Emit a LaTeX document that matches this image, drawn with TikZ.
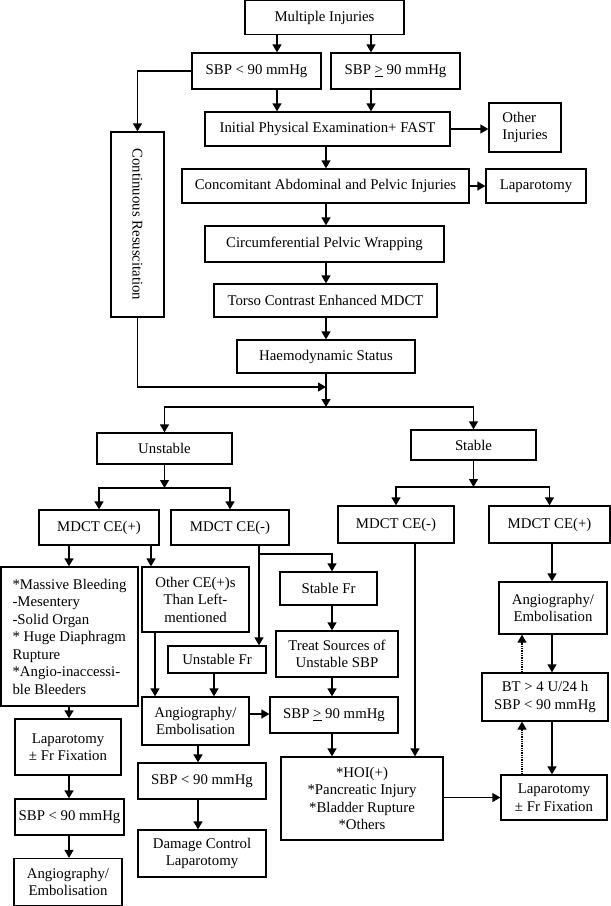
\documentclass[tikz,border=0pt]{standalone}
\usepackage{fontspec}
\setmainfont{Liberation Serif}
\usetikzlibrary{arrows.meta}
\begin{document}
\begin{tikzpicture}[x=1pt,y=-1pt,line width=1.3pt]
\tikzstyle{box}=[draw,line width=1.3pt,inner sep=2pt,align=center,font=\fontsize{14.8}{17.5}\selectfont]
\tikzstyle{arr}=[-{Triangle[length=8pt,width=9pt]}]
\useasboundingbox (0,0) rectangle (611,906);
\node[box,minimum width=159,minimum height=34] (mi) at (324.5,17.6) {Multiple Injuries};
\node[box,minimum width=129,minimum height=36] (sbpL) at (256.5,71) {SBP < 90 mmHg};
\node[box,minimum width=129,minimum height=36] (sbpR) at (395.5,71) {SBP \underline{>} 90 mmHg};
\node[box,minimum width=245,minimum height=34] (ipe) at (327.5,129) {Initial Physical Examination+ FAST};
\node[box,minimum width=72,minimum height=49,align=left] (oth) at (525,127.5) {Other\\Injuries};
\node[box,rotate=-90,minimum width=185,minimum height=53] (cr) at (137.5,224.5) {Continuous Resuscitation};
\node[box,minimum width=287,minimum height=34] (cap) at (325.5,186) {Concomitant Abdominal and Pelvic Injuries};
\node[box,minimum width=100,minimum height=34] (lapT) at (536,186) {Laparotomy};
\node[box,minimum width=239,minimum height=36] (cpw) at (324.5,244) {Circumferential Pelvic Wrapping};
\node[box,minimum width=223,minimum height=33] (tce) at (325.5,300.5) {Torso Contrast Enhanced MDCT};
\node[box,minimum width=178,minimum height=33] (hs) at (326,356.5) {Haemodynamic Status};
\node[box,minimum width=135,minimum height=31] (unst) at (164.5,448.5) {Unstable};
\node[box,minimum width=125,minimum height=30] (stab) at (473.5,445) {Stable};
\node[box,minimum width=120,minimum height=35] (ceP1) at (99,527.5) {MDCT CE(+)};
\node[box,minimum width=118,minimum height=35] (ceN1) at (230,527.5) {MDCT CE(-)};
\node[box,minimum width=116,minimum height=37] (ceN2) at (396,524.5) {MDCT CE(-)};
\node[box,minimum width=121,minimum height=37] (ceP2) at (549.5,524.5) {MDCT CE(+)};
\node[box,minimum width=137,minimum height=139,align=left] (mb) at (69.5,636.5) {*Massive Bleeding\\-Mesentery\\-Solid Organ\\* Huge Diaphragm\\Rupture\\*Angio-inaccessi-\\ble Bleeders};
\node[box,minimum width=107,minimum height=65] (oce) at (195.5,599.5) {Other CE(+)s\\Than Left-\\mentioned};
\node[box,minimum width=97,minimum height=33] (sfr) at (328.5,588.5) {Stable Fr};
\node[box,minimum width=122,minimum height=46] (tsu) at (337,654) {Treat Sources of\\Unstable SBP};
\node[box,minimum width=98,minimum height=27] (ufr) at (217,659.5) {Unstable Fr};
\node[box,minimum width=107,minimum height=48] (aeL) at (195.5,721) {Angiography/\\Embolisation};
\node[box,minimum width=128,minimum height=36] (sbpM) at (334,715) {SBP \underline{>} 90 mmHg};
\node[box,minimum width=162,minimum height=83] (hoi) at (362,798.5) {*HOI(+)\\*Pancreatic Injury\\*Bladder Rupture\\*Others};
\node[box,minimum width=106,minimum height=45] (lapR) at (554,797.5) {Laparotomy\\± Fr Fixation};
\node[box,minimum width=126,minimum height=48] (bt) at (545,697) {BT > 4 U/24 h\\SBP < 90 mmHg};
\node[box,minimum width=108,minimum height=52] (aeR) at (553,608) {Angiography/\\Embolisation};
\node[box,minimum width=106,minimum height=56] (lapL) at (68,747) {Laparotomy\\± Fr Fixation};
\node[box,minimum width=109,minimum height=36] (sbpLL) at (69.5,817) {SBP < 90 mmHg};
\node[box,minimum width=108,minimum height=47] (aeLL) at (68,882) {Angiography/\\Embolisation};
\node[box,minimum width=128,minimum height=36] (sbpMM) at (202,781) {SBP < 90 mmHg};
\node[box,minimum width=128,minimum height=47] (dcl) at (202,853.5) {Damage Control\\Laparotomy};
\draw[arr] (mi.south -| 277,0) -- (sbpL.north -| 277,0);
\draw[arr] (mi.south -| 371,0) -- (sbpR.north -| 371,0);
\draw[arr] (sbpL.south -| 277,0) -- (ipe.north -| 277,0);
\draw[arr] (sbpR.south -| 371,0) -- (ipe.north -| 371,0);
\draw[arr] (sbpL.west) -| (cr.west);
\draw[arr] (ipe.east) -- (ipe.east -| oth.west);
\draw[arr] (cap.east) -- (cap.east -| lapT.west);
\foreach \a/\b in {ipe/cap,cap/cpw,cpw/tce,tce/hs}
 \draw[arr] (\a.south -| 326,0) -- (\b.north -| 326,0);
\coordinate (jn) at (326,387);
\coordinate (br1) at (326,407);
\draw[arr] (hs.south -| 326,0) -- (br1);
\draw[arr] (cr.east) |- (jn);
\draw[arr] (br1) -| (unst.north);
\draw[arr] (br1) -| (stab.north);
\coordinate (br2) at (164.5,488);
\draw[arr] (unst.south) -- (br2);
\draw[arr] (br2) -| (ceP1.north);
\draw[arr] (br2) -| (ceN1.north);
\coordinate (br3) at (473.5,487);
\draw[arr] (stab.south) -- (br3);
\draw[arr] (br3) -| (ceN2.north);
\draw[arr] (br3) -| (ceP2.north);
\draw[arr] (ceP1.south -| 151,0) -- (oce.north -| 151,0);
\coordinate (br4) at (259,554);
\draw[arr] (ceN1.south -| br4) -- (ufr.north -| br4);
\draw[arr] (br4) -| (sfr.north -| 332,0);
\foreach \a/\b in {sfr/tsu,tsu/sbpM,sbpM/hoi}
 \draw[arr] (\a.south -| 332,0) -- (\b.north -| 332,0);
\draw[arr] (oce.south -| 155,0) -- (aeL.north -| 155,0);
\draw[arr] (ufr.south -| 214,0) -- (aeL.north -| 214,0);
\draw[arr] (aeL.east |- 0,714) -- (sbpM.west |- 0,714);
\foreach \a/\b in {aeL/sbpMM,sbpMM/dcl}
 \draw[arr] (\a.south -| 198,0) -- (\b.north -| 198,0);
\foreach \a/\b in {ceP1/mb,mb/lapL,lapL/sbpLL,sbpLL/aeLL}
 \draw[arr] (\a.south -| 69,0) -- (\b.north -| 69,0);
\draw[arr] (ceN2.south -| 415,0) -- (hoi.north -| 415,0);
\draw[arr] (hoi.east |- lapR.west) -- (lapR.west);
\foreach \a/\b in {ceP2/aeR,aeR/bt,bt/lapR}
 \draw[arr] (\a.south -| 552,0) -- (\b.north -| 552,0);
\draw[arr,densely dotted] (lapR.north -| 522,0) -- (bt.south -| 522,0);
\draw[arr,densely dotted] (bt.north -| 522,0) -- (aeR.south -| 522,0);
\end{tikzpicture}
\end{document}
